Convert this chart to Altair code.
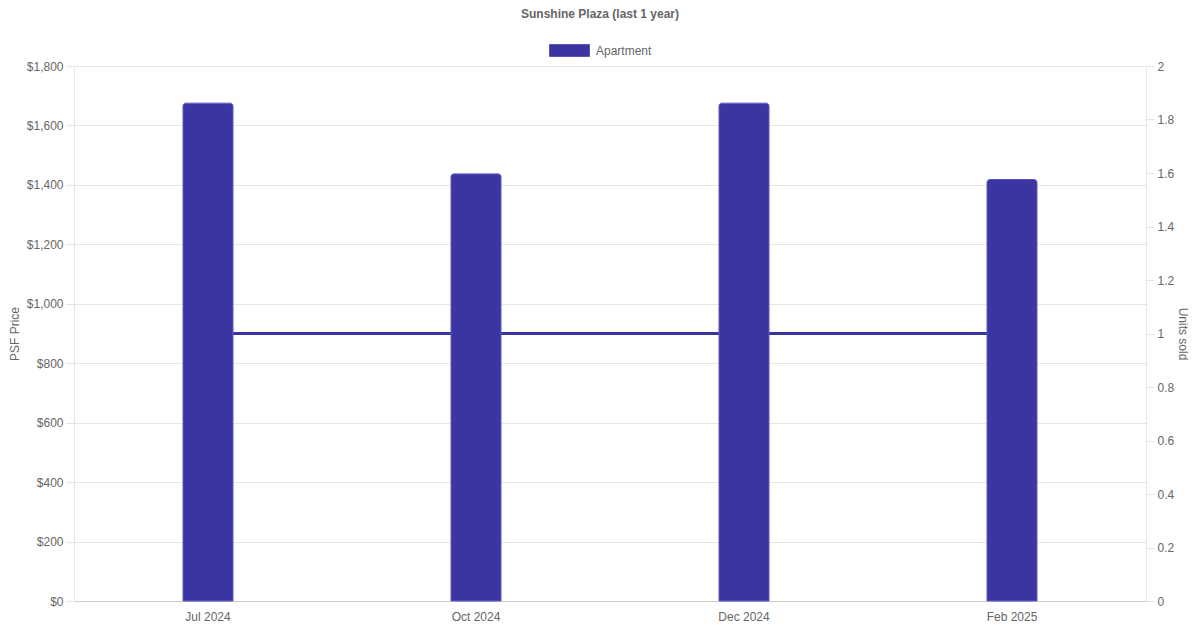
import altair as alt
import pandas as pd

months = ["Jul 2024", "Oct 2024", "Dec 2024", "Feb 2025"]
psf_price = [1675, 1437, 1675, 1418]
units_sold = [1, 1, 1, 1]
property_type = ["Apartment", "Apartment", "Apartment", "Apartment"]

left_ticks = [0, 200, 400, 600, 800, 1000, 1200, 1400, 1600, 1800]
right_ticks = [0, 0.2, 0.4, 0.6, 0.8, 1, 1.2, 1.4, 1.6, 1.8, 2]

df = pd.DataFrame({"month": months, "psf": psf_price, "units": units_sold, "type": property_type})

COLOR = "#3a35a0"
GRID = "#e5e5e5"
TXT = "#666666"
FONT = "Liberation Sans"

x_enc = alt.X(
    "month:N",
    sort=months,
    title=None,
    scale=alt.Scale(paddingInner=0, paddingOuter=0),
    axis=alt.Axis(
        labelAngle=0, ticks=False, grid=False, domainColor="#cccccc",
        labelColor=TXT, labelFontSize=12, labelPadding=10,
    ),
)

line = alt.Chart(df).mark_line(color=COLOR, strokeWidth=3).encode(
    x=x_enc,
    y=alt.Y(
        "units:Q",
        scale=alt.Scale(domain=[0, 2], nice=False),
        axis=alt.Axis(
            orient="right", title="Units sold", values=right_ticks, format=".1~f",
            grid=False, tickColor=GRID, tickSize=8, domainColor=GRID,
            labelColor=TXT, labelFontSize=12, labelPadding=3,
            titleColor=TXT, titleFontSize=12, titleFontWeight="normal", titlePadding=2,
        ),
    ),
)

bars = alt.Chart(df).mark_bar(
    size=50, cornerRadiusTopLeft=3, cornerRadiusTopRight=3,
    stroke="#5853bd", strokeWidth=1,
).encode(
    x=x_enc,
    y=alt.Y(
        "psf:Q",
        scale=alt.Scale(domain=[0, 1800], nice=False),
        axis=alt.Axis(
            orient="left", title="PSF Price", values=left_ticks, format="$,.0f",
            grid=True, gridColor=GRID, tickColor=GRID, tickSize=8, domainColor=GRID,
            labelColor=TXT, labelFontSize=12, labelPadding=3,
            titleColor=TXT, titleFontSize=12, titleFontWeight="normal", titlePadding=5,
        ),
    ),
    color=alt.Color(
        "type:N",
        scale=alt.Scale(range=[COLOR]),
        legend=alt.Legend(
            title=None, orient="none", legendX=475, legendY=-36, padding=0,
            symbolType="M-1,-0.3H1V0.3H-1Z", symbolSize=1600,
            symbolStrokeWidth=1, symbolStrokeColor="#5853bd",
            labelColor=TXT, labelFontSize=12, labelOffset=6,
        ),
    ),
)

chart = (
    alt.layer(line, bars)
    .resolve_scale(y="independent")
    .properties(
        width=1072,
        height=535,
        autosize=alt.AutoSizeParams(type="none"),
        padding={"left": 66, "top": 58, "right": 46, "bottom": 21},
        title=alt.TitleParams(
            "Sunshine Plaza (last 1 year)", anchor="middle", dx=-10, offset=9,
            fontSize=12, fontWeight="bold", color=TXT, font=FONT,
        ),
    )
    .configure(font=FONT)
    .configure_view(stroke=None)
    .configure_axis(labelFont=FONT, titleFont=FONT)
    .configure_legend(labelFont=FONT)
)

chart.save("out.html", embed_options={"renderer": "svg", "actions": False})
